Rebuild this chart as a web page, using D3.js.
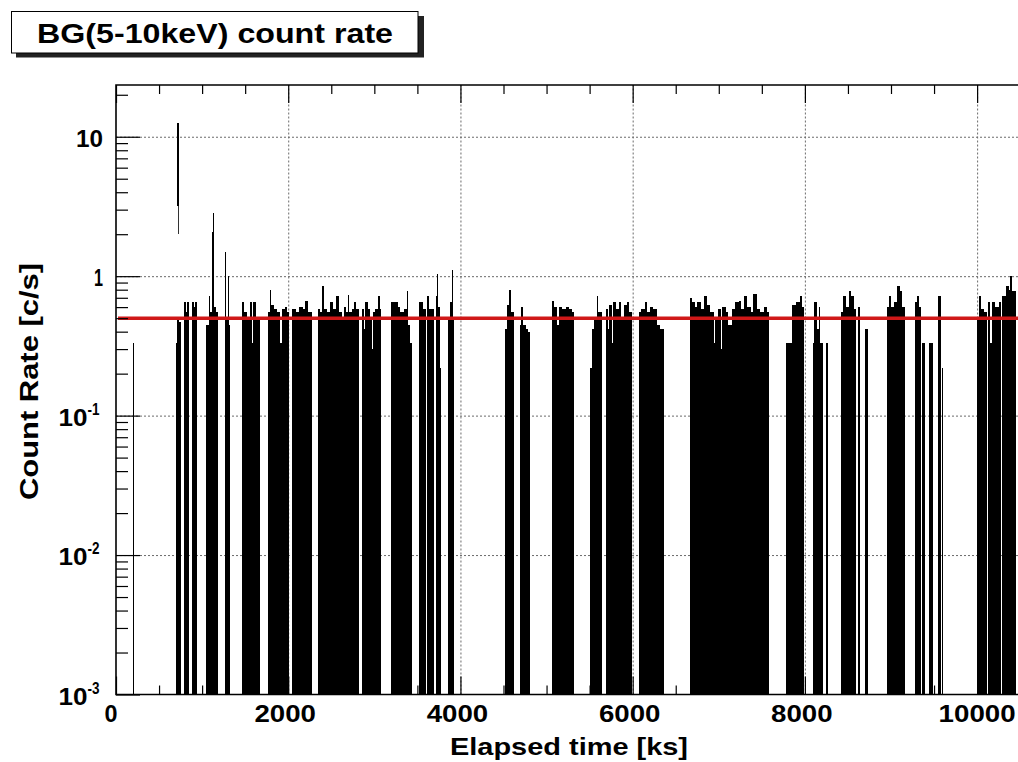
<!DOCTYPE html>
<html>
<head>
<meta charset="utf-8">
<script src="https://cdn.jsdelivr.net/npm/d3@7"></script>
<style>
  html, body { margin: 0; padding: 0; background: #fff; }
  svg { display: block; }
</style>
</head>
<body>
<svg id="chart" width="1018" height="762"></svg>
<script>
// ---- Light-curve bins: start / end time [ks] and count rate [c/s] ----
const binStart = [
  195,
  700, 712, 735,
  795, 815, 830, 880, 905, 920,
  1050, 1075, 1090, 1120, 1124, 1135, 1160,
  1262, 1275, 1300, 1312,
  1466, 1490, 1520, 1560, 1585, 1595, 1630,
  1763, 1785, 1800, 1830, 1870, 1910, 1922, 1960, 1990,
  2045, 2090, 2130, 2170, 2200, 2230,
  2342, 2370, 2390, 2410, 2450, 2480, 2520, 2560, 2590, 2620, 2650, 2670, 2695, 2710, 2740, 2760, 2790,
  2851, 2875, 2890, 2925, 2950, 2970, 2985, 3010, 3040, 3060,
  3198, 3230, 3270, 3300, 3340, 3380, 3395, 3420,
  3519, 3560,
  3616, 3635,
  3712, 3730, 3745, 3760,
  3854, 3880, 3900, 3915,
  4522, 4540, 4560, 4590,
  4688, 4705, 4725, 4760, 4790,
  5062, 5090, 5120, 5150, 5180, 5220, 5260, 5290,
  5506, 5530, 5555, 5580, 5600,
  5687, 5710, 5730, 5760, 5775, 5810, 5840, 5870, 5900, 5930, 5960,
  6076, 6100, 6140, 6170, 6200, 6240, 6280, 6320,
  6663, 6690, 6720, 6750, 6790, 6830, 6860, 6900, 6940, 6952, 6990, 7030, 7040, 7080, 7110, 7150, 7190, 7230, 7260, 7290, 7330, 7370, 7400, 7440, 7480, 7520, 7560,
  7781, 7832, 7850, 7900, 7940, 7965,
  8090, 8110, 8140, 8160, 8180,
  8245,
  8418, 8440, 8480, 8510, 8540, 8570,
  8611,
  8700,
  8950, 8975, 9000, 9040, 9070, 9100, 9130,
  9274, 9300, 9325,
  9363,
  9441,
  9549,
  9590,
  10000, 10020, 10050, 10080, 10122, 10150, 10170, 10210, 10250, 10288, 10330, 10370, 10380, 10410
];
const binEnd = [
  207,
  712, 735, 756,
  815, 830, 851, 905, 920, 941,
  1075, 1090, 1120, 1135, 1131, 1160, 1184,
  1275, 1300, 1312, 1320,
  1490, 1520, 1560, 1585, 1595, 1630, 1667,
  1785, 1800, 1830, 1870, 1910, 1922, 1960, 1990, 2014,
  2090, 2130, 2170, 2200, 2230, 2277,
  2370, 2390, 2410, 2450, 2480, 2520, 2560, 2590, 2620, 2650, 2670, 2695, 2710, 2740, 2760, 2790, 2824,
  2875, 2890, 2925, 2950, 2970, 2985, 3010, 3040, 3060, 3082,
  3230, 3270, 3300, 3340, 3380, 3395, 3420, 3434,
  3560, 3596,
  3635, 3692,
  3730, 3745, 3760, 3772,
  3880, 3900, 3915, 3924,
  4540, 4560, 4590, 4618,
  4705, 4725, 4760, 4790, 4811,
  5090, 5120, 5150, 5180, 5220, 5260, 5290, 5313,
  5530, 5555, 5580, 5600, 5640,
  5710, 5730, 5760, 5775, 5810, 5840, 5870, 5900, 5930, 5960, 5988,
  6100, 6140, 6170, 6200, 6240, 6280, 6320, 6366,
  6690, 6720, 6750, 6790, 6830, 6860, 6900, 6940, 6952, 6990, 7030, 7040, 7080, 7110, 7150, 7190, 7230, 7260, 7290, 7330, 7370, 7400, 7440, 7480, 7520, 7560, 7589,
  7822, 7850, 7900, 7940, 7965, 7994,
  8110, 8140, 8160, 8180, 8206,
  8270,
  8440, 8480, 8510, 8540, 8570, 8591,
  8642,
  8734,
  8975, 9000, 9040, 9070, 9100, 9130, 9158,
  9300, 9325, 9343,
  9390,
  9487,
  9576,
  9600,
  10020, 10050, 10080, 10110, 10150, 10170, 10210, 10250, 10278, 10330, 10370, 10410, 10400, 10450
];
const binRate = [
  0.33,
  0.33, 0.49, 0.47,
  0.65, 0.55, 0.65, 0.65, 0.60, 0.65,
  0.45, 0.72, 0.55, 2.07, 2.86, 0.60, 0.55,
  1.50, 0.50, 1.00, 0.45,
  0.65, 0.55, 0.50, 0.65, 0.33, 0.65, 0.50,
  0.55, 0.79, 0.62, 0.58, 0.55, 0.33, 0.58, 0.60, 0.55,
  0.58, 0.55, 0.60, 0.58, 0.66, 0.55,
  0.58, 0.55, 0.85, 0.58, 0.55, 0.65, 0.58, 0.72, 0.55, 0.50, 0.60, 0.55, 0.73, 0.55, 0.58, 0.65, 0.58,
  0.58, 0.42, 0.65, 0.58, 0.50, 0.30, 0.55, 0.58, 0.72, 0.58,
  0.65, 0.65, 0.60, 0.55, 0.58, 0.78, 0.45, 0.33,
  0.65, 0.58,
  0.72, 0.58,
  0.72, 1.03, 0.60, 0.22,
  0.50, 0.65, 1.10, 0.50,
  0.42, 0.62, 0.80, 0.55,
  0.45, 0.60, 0.45, 0.42, 0.40,
  0.66, 0.60, 0.45, 0.60, 0.58, 0.60, 0.58, 0.55,
  0.22, 0.42, 0.50, 0.72, 0.55,
  0.58, 0.42, 0.62, 0.33, 0.65, 0.58, 0.65, 0.50, 0.62, 0.65, 0.55,
  0.55, 0.58, 0.65, 0.55, 0.60, 0.58, 0.45, 0.42,
  0.70, 0.65, 0.60, 0.65, 0.58, 0.72, 0.62, 0.55, 0.33, 0.50, 0.58, 0.30, 0.60, 0.55, 0.45, 0.58, 0.65, 0.66, 0.58, 0.72, 0.60, 0.55, 0.75, 0.58, 0.55, 0.60, 0.55,
  0.33, 0.33, 0.62, 0.65, 0.72, 0.60,
  0.33, 0.65, 0.42, 0.60, 0.33,
  0.33,
  0.55, 0.72, 0.60, 0.78, 0.72, 0.58,
  0.60,
  0.42,
  0.60, 0.72, 0.60, 0.65, 0.85, 0.78, 0.60,
  0.65, 0.72, 0.60,
  0.33,
  0.33,
  0.72,
  0.22,
  0.50, 0.72, 0.58, 0.55, 0.65, 0.33, 0.65, 0.60, 0.65, 0.72, 0.85, 0.80, 1.00, 0.78
];

// Flare bins whose lower edge sits above the plot floor [ks, c/s]
const flareStart = [710, 718];
const flareEnd   = [737, 729];
const flareLow   = [3.2, 2.0];
const flareHigh  = [12.5, 3.2];

// Mean background level [c/s]
const meanRate = 0.5;

// Axis ticks
const xMajorTicks = [0, 2000, 4000, 6000, 8000, 10000];
const xMinorTicks = [500, 1000, 1500, 2500, 3000, 3500, 4500, 5000, 5500, 6500, 7000, 7500, 8500, 9000, 9500, 10500];
const xTickLabels = ["0", "2000", "4000", "6000", "8000", "10000"];
const yMajorTicks = [0.001, 0.01, 0.1, 1, 10];
const yTickBase   = ["10", "10", "10", "1", "10"];
const yTickExp    = ["-3", "-2", "-1", "", ""];

const titleText  = "BG(5-10keV) count rate";
const xTitleText = "Elapsed time [ks]";
const yTitleText = "Count Rate [c/s]";

// ---- Frame and scales ----
const plotL = 116, plotR = 1046, plotT = 85, plotB = 694.5;
const FONT = '"Liberation Sans", Arial, Helvetica, sans-serif';

const x = d3.scaleLinear().domain([0, 10800]).range([plotL, plotR]);
const y = d3.scaleLog().domain([1e-3, 23.5]).range([plotB, plotT]);

const yMinorTicks = [];
[0.001, 0.01, 0.1, 1, 10].forEach(d => {
  for (let k = 2; k <= 9; k++) {
    const v = d * k;
    if (v <= 23.5) yMinorTicks.push(v);
  }
});

const svg = d3.select("#chart");
svg.append("rect").attr("width", 1018).attr("height", 762).attr("fill", "#fff");

svg.append("defs").append("clipPath").attr("id", "plotClip")
  .append("rect")
  .attr("x", plotL).attr("y", plotT)
  .attr("width", plotR - plotL).attr("height", plotB - plotT);

// ---- Dotted grid ----
const gridStyle = g => {
  g.select(".domain").remove();
  g.selectAll("text").remove();
  g.selectAll("line")
    .attr("stroke", "#6a6a6a")
    .attr("stroke-width", 1)
    .attr("stroke-dasharray", "2,2");
};
svg.append("g")
  .attr("transform", `translate(0,${plotB})`)
  .call(d3.axisBottom(x).tickValues(xMajorTicks.filter(v => v > 0)).tickSize(-(plotB - plotT)).tickFormat(""))
  .call(gridStyle);
svg.append("g")
  .attr("transform", `translate(${plotL},0)`)
  .call(d3.axisLeft(y).tickValues(yMajorTicks.filter(v => v > 0.001)).tickSize(-(plotR - plotL)).tickFormat(""))
  .call(gridStyle);

// ---- Histogram bars (pixel-snapped so neighbouring bins join seamlessly) ----
const px = t => Math.round(x(t));
const bars = svg.append("g")
  .attr("clip-path", "url(#plotClip)")
  .attr("shape-rendering", "crispEdges");
bars.selectAll("rect.bin")
  .data(d3.range(binRate.length))
  .join("rect")
  .attr("class", "bin")
  .attr("x", i => px(binStart[i]))
  .attr("width", i => Math.max(1, px(binEnd[i]) - px(binStart[i])))
  .attr("y", i => Math.round(y(binRate[i])))
  .attr("height", i => Math.round(plotB) - Math.round(y(binRate[i])))
  .attr("fill", "#000");

bars.selectAll("rect.flare")
  .data(d3.range(flareStart.length))
  .join("rect")
  .attr("class", "flare")
  .attr("x", i => px(flareStart[i]))
  .attr("width", i => Math.max(1, px(flareEnd[i]) - px(flareStart[i])))
  .attr("y", i => Math.round(y(flareHigh[i])))
  .attr("height", i => Math.round(y(flareLow[i])) - Math.round(y(flareHigh[i])))
  .attr("fill", i => i === 0 ? "#000" : "#333");

// ---- Mean level ----
svg.append("line")
  .attr("x1", x(0) + 2).attr("x2", plotR)
  .attr("y1", y(meanRate)).attr("y2", y(meanRate))
  .attr("stroke", "#d01818")
  .attr("stroke-width", 3.5);

// ---- Axis ticks (inward, ROOT style) ----
const tickStyle = g => {
  g.select(".domain").remove();
  g.selectAll("text").remove();
  g.selectAll("line").attr("stroke", "#000").attr("stroke-width", 1.2);
};
const addAxis = (axis, tx, ty) =>
  svg.append("g").attr("transform", `translate(${tx},${ty})`).call(axis).call(tickStyle);

addAxis(d3.axisBottom(x).tickValues(xMinorTicks).tickSizeInner(-9).tickSizeOuter(0).tickFormat(""), 0, plotB);
addAxis(d3.axisBottom(x).tickValues(xMajorTicks).tickSizeInner(-18).tickSizeOuter(0).tickFormat(""), 0, plotB);
addAxis(d3.axisTop(x).tickValues(xMinorTicks).tickSizeInner(-9).tickSizeOuter(0).tickFormat(""), 0, plotT);
addAxis(d3.axisTop(x).tickValues(xMajorTicks).tickSizeInner(-18).tickSizeOuter(0).tickFormat(""), 0, plotT);
addAxis(d3.axisLeft(y).tickValues(yMinorTicks).tickSizeInner(-12).tickSizeOuter(0).tickFormat(""), plotL, 0);
addAxis(d3.axisLeft(y).tickValues(yMajorTicks).tickSizeInner(-24).tickSizeOuter(0).tickFormat(""), plotL, 0);

// ---- Frame ----
svg.append("path")
  .attr("d", `M${plotR},${plotT}H${plotL}V${plotB}H${plotR}`)
  .attr("fill", "none")
  .attr("stroke", "#000")
  .attr("stroke-width", 1.6);

// ---- Tick labels ----
const xLabelWidth = s => s.length === 1 ? 13 : (s.length === 5 ? 77 : 61.5);
svg.append("g").selectAll("text")
  .data(xMajorTicks)
  .join("text")
  .attr("x", (d, i) => x(d) - (i === 0 ? 5 : (i === 5 ? 0 : 3)))
  .attr("y", 722)
  .attr("text-anchor", "middle")
  .attr("font-family", FONT)
  .attr("font-weight", "bold")
  .attr("font-size", 23)
  .attr("textLength", (d, i) => xLabelWidth(xTickLabels[i]))
  .attr("lengthAdjust", "spacingAndGlyphs")
  .text((d, i) => xTickLabels[i]);

const yLab = svg.append("g");
yMajorTicks.forEach((v, i) => {
  const ty = y(v);
  if (yTickExp[i] === "") {
    yLab.append("text")
      .attr("x", 103).attr("y", ty + 10)
      .attr("text-anchor", "end")
      .attr("font-family", FONT).attr("font-weight", "bold").attr("font-size", 23)
      .attr("textLength", yTickBase[i].length === 1 ? 9 : 27)
      .attr("lengthAdjust", "spacingAndGlyphs")
      .text(yTickBase[i]);
  } else {
    yLab.append("text")
      .attr("x", 87.5).attr("y", ty + 10)
      .attr("text-anchor", "end")
      .attr("font-family", FONT).attr("font-weight", "bold").attr("font-size", 23)
      .attr("textLength", 29).attr("lengthAdjust", "spacingAndGlyphs")
      .text(yTickBase[i]);
    yLab.append("text")
      .attr("x", 87.5).attr("y", ty - 1)
      .attr("font-family", FONT).attr("font-weight", "bold").attr("font-size", 16)
      .attr("textLength", 12).attr("lengthAdjust", "spacingAndGlyphs")
      .text(yTickExp[i]);
  }
});

// ---- Axis titles ----
svg.append("text")
  .attr("x", 450).attr("y", 755)
  .attr("font-family", FONT).attr("font-weight", "bold").attr("font-size", 24)
  .attr("textLength", 238).attr("lengthAdjust", "spacingAndGlyphs")
  .text(xTitleText);

svg.append("text")
  .attr("transform", "translate(38,381.5) rotate(-90)")
  .attr("text-anchor", "middle")
  .attr("font-family", FONT).attr("font-weight", "bold").attr("font-size", 25)
  .attr("textLength", 237).attr("lengthAdjust", "spacingAndGlyphs")
  .text(yTitleText);

// ---- Title box with drop shadow ----
svg.append("rect")
  .attr("x", 16).attr("y", 16)
  .attr("width", 408).attr("height", 41.5)
  .attr("fill", "#222");
svg.append("rect")
  .attr("x", 11.5).attr("y", 11.5)
  .attr("width", 406.5).attr("height", 41.5)
  .attr("fill", "#fff")
  .attr("stroke", "#000")
  .attr("stroke-width", 1);
svg.append("text")
  .attr("x", 37).attr("y", 43.3)
  .attr("font-family", FONT).attr("font-weight", "bold").attr("font-size", 28)
  .attr("textLength", 356).attr("lengthAdjust", "spacingAndGlyphs")
  .text(titleText);
</script>
</body>
</html>
